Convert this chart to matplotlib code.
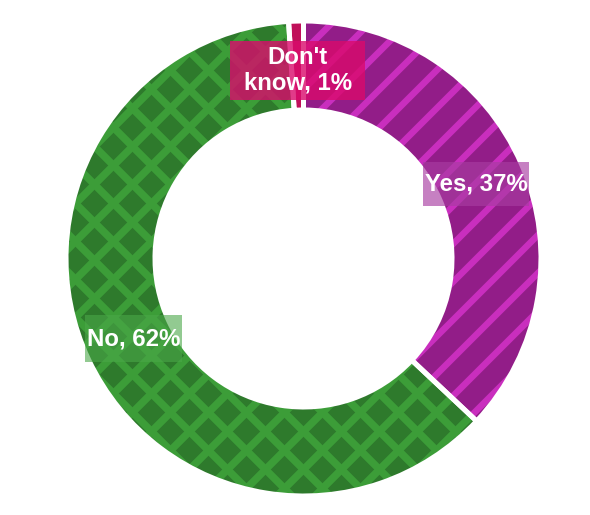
import matplotlib
matplotlib.use("Agg")
import matplotlib.pyplot as plt
import numpy as np
from matplotlib.path import Path

# ---- data ----
categories = ["Yes", "No", "Don't\nknow"]
values = [37, 62, 1]

# ---- styles ----
base_colors = ["#921D88", "#2E7A2C", "#C0105A"]
stripe_colors = ["#C92EBE", "#3C9D38", "#C0105A"]
stripe_dirs = [["/"], ["/", "\\"], []]
stripe_spacing_px = [38.0, 38.0, 30.0]   # horizontal period of the stripes
stripe_width_px = [6.5, 7.5, 6.0]
box_colors = ["#A83CA2", "#4AA848", "#DA0A6C"]
box_alpha = [0.65, 0.6, 0.8]
box_hpad = [0.08, 0.06, 0.55]   # fraction of font size
box_vpad = [0.45, 0.5, 0.2]

DPI = 240
W_PX, H_PX = 590, 515
CX, CY = 303.5, 256.5        # centre in px from left / bottom
R_PX = 235.0
R_IN_PX = 151.0
GAP_PX = 5.0
FS_PX = 24.0

plt.rcParams["font.family"] = ["Liberation Sans", "DejaVu Sans"]

fig = plt.figure(figsize=(W_PX / DPI, H_PX / DPI), dpi=DPI)
ax = fig.add_axes([0, 0, 1, 1])

unit = R_PX
outer = 1.0 + (GAP_PX / 2) / unit
inner = R_IN_PX / unit - (GAP_PX / 2) / unit

wedges, _ = ax.pie(values, startangle=90, counterclock=False, radius=outer,
                   colors=base_colors,
                   wedgeprops=dict(width=outer - inner, linewidth=0))

# stripe texture clipped to each wedge
for w, sc, dirs, sp, sw in zip(wedges, stripe_colors, stripe_dirs,
                               stripe_spacing_px, stripe_width_px):
    s = sp / unit
    offsets = np.arange(-3.0, 3.0, s)
    for d in dirs:
        sign = 1 if d == "/" else -1
        for c in offsets:
            xs = np.array([-1.6, 1.6])
            ys = sign * xs + c
            ln, = ax.plot(xs, ys, color=sc, lw=sw * 72 / DPI,
                          solid_capstyle="butt", zorder=w.get_zorder() + 0.1)
            ln.set_clip_path(w)

# white separators
ax.pie(values, startangle=90, counterclock=False, radius=outer,
       wedgeprops=dict(width=outer - inner, facecolor="none",
                       edgecolor="white", linewidth=GAP_PX * 72 / DPI,
                       zorder=3))


def make_box(hp, vp):
    def box(x0, y0, width, height, mutation_size):
        px = hp * mutation_size
        py = vp * mutation_size
        x0 -= px
        y0 -= py
        x1 = x0 + width + 2 * px
        y1 = y0 + height + 2 * py
        return Path([(x0, y0), (x1, y0), (x1, y1), (x0, y1), (x0, y0)], closed=True)
    return box


total = sum(values)
cum = 0
r_lab = 0.80
for i, (cat, v) in enumerate(zip(categories, values)):
    mid = 90 - 360 * (cum + v / 2) / total
    cum += v
    x = r_lab * np.cos(np.radians(mid))
    y = r_lab * np.sin(np.radians(mid))
    label = f"{cat}, {v}%"
    ax.text(x, y, label, ha="center", va="center", color="white",
            fontsize=FS_PX * 72 / DPI, fontweight="bold", linespacing=1.15,
            zorder=5,
            bbox=dict(boxstyle=make_box(box_hpad[i], box_vpad[i]),
                      facecolor=box_colors[i], alpha=box_alpha[i],
                      edgecolor="none"))

ax.set_xlim(-CX / unit, (W_PX - CX) / unit)
ax.set_ylim(-CY / unit, (H_PX - CY) / unit)
ax.set_aspect("equal", adjustable="box")
ax.axis("off")

fig.savefig("out.png", dpi=DPI, facecolor="white")
